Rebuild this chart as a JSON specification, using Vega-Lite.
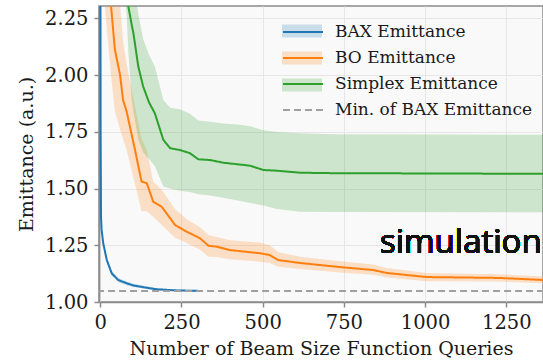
{
  "$schema": "https://vega.github.io/schema/vega-lite/v6.json",
  "width": 444,
  "height": 296,
  "autosize": {"type": "none"},
  "padding": {"left": 99, "top": 6, "right": 0, "bottom": 60},
  "background": "white",
  "config": {
    "view": {"fill": "#f9f9f9", "stroke": "#8c8c8c", "strokeWidth": 1.5},
    "axis": {
      "domainColor": "#8c8c8c", "domainWidth": 1.5, "tickColor": "#8c8c8c", "tickWidth": 1.5, "tickSize": 5,
      "labelFont": "DejaVu Serif", "labelFontSize": 19.5, "labelColor": "#1a1a1a",
      "titleFont": "DejaVu Serif", "titleFontSize": 19, "titleFontWeight": "normal", "titleColor": "#1a1a1a",
      "gridColor": "#e6e6e6", "gridWidth": 1
    },
    "legend": {"labelFont": "DejaVu Serif", "labelFontSize": 17, "labelColor": "#1a1a1a", "labelLimit": 0}
  },
  "datasets": {
    "curves": [
      {"series": "BAX Emittance", "x": 0, "mean": 3.0, "lo": 2.9, "hi": 3.1},
      {"series": "BAX Emittance", "x": 1, "mean": 1.75, "lo": 1.68, "hi": 1.82},
      {"series": "BAX Emittance", "x": 2.2, "mean": 1.376, "lo": 1.35, "hi": 1.40},
      {"series": "BAX Emittance", "x": 4, "mean": 1.32, "lo": 1.30, "hi": 1.34},
      {"series": "BAX Emittance", "x": 9, "mean": 1.259, "lo": 1.245, "hi": 1.273},
      {"series": "BAX Emittance", "x": 20, "mean": 1.185, "lo": 1.173, "hi": 1.197},
      {"series": "BAX Emittance", "x": 35, "mean": 1.127, "lo": 1.117, "hi": 1.137},
      {"series": "BAX Emittance", "x": 55, "mean": 1.097, "lo": 1.088, "hi": 1.106},
      {"series": "BAX Emittance", "x": 86, "mean": 1.080, "lo": 1.072, "hi": 1.088},
      {"series": "BAX Emittance", "x": 102, "mean": 1.073, "lo": 1.066, "hi": 1.080},
      {"series": "BAX Emittance", "x": 138, "mean": 1.064, "lo": 1.058, "hi": 1.070},
      {"series": "BAX Emittance", "x": 174, "mean": 1.056, "lo": 1.051, "hi": 1.061},
      {"series": "BAX Emittance", "x": 235, "mean": 1.051, "lo": 1.047, "hi": 1.055},
      {"series": "BAX Emittance", "x": 302, "mean": 1.049, "lo": 1.045, "hi": 1.053},

      {"series": "BO Emittance", "x": 0, "mean": 3.4, "lo": 3.0, "hi": 3.8},
      {"series": "BO Emittance", "x": 14, "mean": 2.65, "lo": 2.306, "hi": 3.0},
      {"series": "BO Emittance", "x": 33, "mean": 2.306, "lo": 2.0, "hi": 2.62},
      {"series": "BO Emittance", "x": 45, "mean": 2.112, "lo": 1.84, "hi": 2.45},
      {"series": "BO Emittance", "x": 61, "mean": 2.0, "lo": 1.76, "hi": 2.306},
      {"series": "BO Emittance", "x": 70, "mean": 1.891, "lo": 1.72, "hi": 2.15},
      {"series": "BO Emittance", "x": 81, "mean": 1.84, "lo": 1.67, "hi": 2.05},
      {"series": "BO Emittance", "x": 107, "mean": 1.670, "lo": 1.52, "hi": 1.86},
      {"series": "BO Emittance", "x": 127, "mean": 1.531, "lo": 1.40, "hi": 1.72},
      {"series": "BO Emittance", "x": 143, "mean": 1.524, "lo": 1.40, "hi": 1.67},
      {"series": "BO Emittance", "x": 163, "mean": 1.442, "lo": 1.376, "hi": 1.53},
      {"series": "BO Emittance", "x": 189, "mean": 1.420, "lo": 1.34, "hi": 1.495},
      {"series": "BO Emittance", "x": 230, "mean": 1.340, "lo": 1.283, "hi": 1.41},
      {"series": "BO Emittance", "x": 266, "mean": 1.310, "lo": 1.26, "hi": 1.365},
      {"series": "BO Emittance", "x": 307, "mean": 1.281, "lo": 1.23, "hi": 1.33},
      {"series": "BO Emittance", "x": 333, "mean": 1.248, "lo": 1.20, "hi": 1.295},
      {"series": "BO Emittance", "x": 358, "mean": 1.244, "lo": 1.198, "hi": 1.287},
      {"series": "BO Emittance", "x": 399, "mean": 1.229, "lo": 1.188, "hi": 1.272},
      {"series": "BO Emittance", "x": 491, "mean": 1.215, "lo": 1.178, "hi": 1.262},
      {"series": "BO Emittance", "x": 522, "mean": 1.207, "lo": 1.172, "hi": 1.25},
      {"series": "BO Emittance", "x": 547, "mean": 1.185, "lo": 1.155, "hi": 1.22},
      {"series": "BO Emittance", "x": 615, "mean": 1.172, "lo": 1.145, "hi": 1.20},
      {"series": "BO Emittance", "x": 738, "mean": 1.154, "lo": 1.13, "hi": 1.18},
      {"series": "BO Emittance", "x": 840, "mean": 1.141, "lo": 1.12, "hi": 1.165},
      {"series": "BO Emittance", "x": 882, "mean": 1.128, "lo": 1.108, "hi": 1.15},
      {"series": "BO Emittance", "x": 1005, "mean": 1.110, "lo": 1.092, "hi": 1.128},
      {"series": "BO Emittance", "x": 1230, "mean": 1.106, "lo": 1.09, "hi": 1.122},
      {"series": "BO Emittance", "x": 1363, "mean": 1.097, "lo": 1.083, "hi": 1.112},
      {"series": "BO Emittance", "x": 1400, "mean": 1.095, "lo": 1.081, "hi": 1.110},

      {"series": "Simplex Emittance", "x": 0, "mean": 3.3, "lo": 3.0, "hi": 3.6},
      {"series": "Simplex Emittance", "x": 50, "mean": 2.75, "lo": 2.55, "hi": 2.95},
      {"series": "Simplex Emittance", "x": 75, "mean": 2.45, "lo": 2.35, "hi": 2.7},
      {"series": "Simplex Emittance", "x": 81, "mean": 2.38, "lo": 2.27, "hi": 2.62},
      {"series": "Simplex Emittance", "x": 86, "mean": 2.306, "lo": 2.11, "hi": 2.55},
      {"series": "Simplex Emittance", "x": 97, "mean": 2.22, "lo": 1.89, "hi": 2.45},
      {"series": "Simplex Emittance", "x": 102, "mean": 2.185, "lo": 1.84, "hi": 2.40},
      {"series": "Simplex Emittance", "x": 117, "mean": 2.038, "lo": 1.715, "hi": 2.27},
      {"series": "Simplex Emittance", "x": 132, "mean": 1.950, "lo": 1.66, "hi": 2.16},
      {"series": "Simplex Emittance", "x": 150, "mean": 1.88, "lo": 1.63, "hi": 2.09},
      {"series": "Simplex Emittance", "x": 168, "mean": 1.832, "lo": 1.60, "hi": 2.038},
      {"series": "Simplex Emittance", "x": 194, "mean": 1.715, "lo": 1.509, "hi": 1.891},
      {"series": "Simplex Emittance", "x": 215, "mean": 1.678, "lo": 1.50, "hi": 1.856},
      {"series": "Simplex Emittance", "x": 245, "mean": 1.670, "lo": 1.49, "hi": 1.85},
      {"series": "Simplex Emittance", "x": 276, "mean": 1.656, "lo": 1.485, "hi": 1.83},
      {"series": "Simplex Emittance", "x": 302, "mean": 1.629, "lo": 1.475, "hi": 1.80},
      {"series": "Simplex Emittance", "x": 338, "mean": 1.626, "lo": 1.47, "hi": 1.795},
      {"series": "Simplex Emittance", "x": 379, "mean": 1.614, "lo": 1.46, "hi": 1.787},
      {"series": "Simplex Emittance", "x": 430, "mean": 1.606, "lo": 1.445, "hi": 1.781},
      {"series": "Simplex Emittance", "x": 461, "mean": 1.601, "lo": 1.437, "hi": 1.775},
      {"series": "Simplex Emittance", "x": 502, "mean": 1.582, "lo": 1.425, "hi": 1.757},
      {"series": "Simplex Emittance", "x": 543, "mean": 1.579, "lo": 1.41, "hi": 1.75},
      {"series": "Simplex Emittance", "x": 615, "mean": 1.570, "lo": 1.398, "hi": 1.744},
      {"series": "Simplex Emittance", "x": 716, "mean": 1.568, "lo": 1.397, "hi": 1.740},
      {"series": "Simplex Emittance", "x": 1400, "mean": 1.565, "lo": 1.396, "hi": 1.737},

      {"series": "Min. of BAX Emittance", "x": -10, "mean": 1.048},
      {"series": "Min. of BAX Emittance", "x": 1400, "mean": 1.048}
    ]
  },
  "data": {"name": "curves"},
  "layer": [
    {
      "transform": [{"filter": "datum.series !== 'Min. of BAX Emittance'"}],
      "mark": {"type": "area", "clip": true, "fillOpacity": 0.22},
      "encoding": {
        "x": {"field": "x", "type": "quantitative", "scale": {"domain": [-4, 1363], "nice": false, "zero": false},
              "axis": {"values": [0, 250, 500, 750, 1000, 1250], "format": "d", "title": "Number of Beam Size Function Queries", "labelPadding": 6, "titlePadding": 8, "grid": true}},
        "y": {"field": "lo", "type": "quantitative", "scale": {"domain": [1.0, 2.305], "nice": false, "zero": false},
              "axis": {"values": [1.0, 1.25, 1.5, 1.75, 2.0, 2.25], "format": ".2f", "title": "Emittance (a.u.)", "labelPadding": 6, "titlePadding": 8, "grid": true}},
        "y2": {"field": "hi"},
        "fill": {"field": "series", "type": "nominal",
                 "scale": {"domain": ["BAX Emittance", "BO Emittance", "Simplex Emittance"], "range": ["#1f77b4", "#ff7f0e", "#2ca02c"]},
                 "legend": {"orient": "none", "legendX": 193, "legendY": 15, "title": null, "symbolType": "M-2,-0.65H2V0.65H-2Z", "symbolSize": 400, "symbolOpacity": 0.22, "symbolStrokeWidth": 0, "labelExpr": "''", "labelOffset": 21, "rowPadding": 9, "padding": 0}}
      }
    },
    {
      "mark": {"type": "line", "clip": true, "strokeWidth": 2},
      "encoding": {
        "x": {"field": "x", "type": "quantitative"},
        "y": {"field": "mean", "type": "quantitative"},
        "stroke": {"field": "series", "type": "nominal",
                   "scale": {"domain": ["BAX Emittance", "BO Emittance", "Simplex Emittance", "Min. of BAX Emittance"], "range": ["#1f77b4", "#ff7f0e", "#2ca02c", "#a0a0a0"]},
                   "legend": {"orient": "none", "legendX": 193, "legendY": 15, "title": null, "symbolType": "M-2,0H2", "symbolSize": 400, "symbolStrokeWidth": 2, "labelOffset": 21, "rowPadding": 7, "padding": 0,
                              "encode": {"symbols": {"update": {"strokeDash": {"signal": "datum.value === 'Min. of BAX Emittance' ? [7, 4] : [1, 0]"}}}}}},
        "strokeDash": {"field": "series", "type": "nominal",
                       "scale": {"domain": ["BAX Emittance", "BO Emittance", "Simplex Emittance", "Min. of BAX Emittance"], "range": [[1, 0], [1, 0], [1, 0], [7, 4]]},
                       "legend": null}
      }
    },
    {
      "mark": {"type": "text", "font": "Open Sans", "fontSize": 33, "align": "left", "baseline": "alphabetic", "color": "#111111"},
      "encoding": {
        "x": {"datum": 861, "type": "quantitative"},
        "y": {"datum": 1.215, "type": "quantitative"},
        "text": {"value": "simulation"}
      }
    }
  ]
}
